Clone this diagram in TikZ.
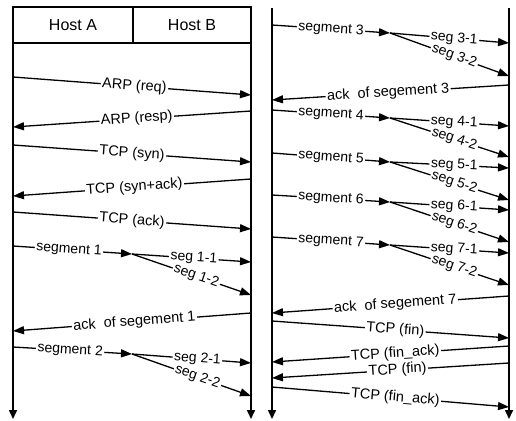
\documentclass[tikz,border=0pt]{standalone}
\usepackage{fontspec}
\setmainfont{Liberation Sans}
\usetikzlibrary{arrows.meta}
\begin{document}
\begin{tikzpicture}[x=1pt,y=-1pt,
  msg/.style={-{Triangle[length=11pt,width=8pt]}, line width=1.3pt},
  life/.style={-{Triangle[length=9pt,width=8pt]}, line width=1.5pt},
  lbl/.style={fill=white, inner xsep=1.5pt, inner ysep=0pt, sloped, font=\fontsize{14.5}{15}\selectfont},
  slbl/.style={lbl, font=\fontsize{14}{15}\selectfont},
  hdr/.style={font=\fontsize{16}{17}\selectfont}]
\useasboundingbox (0,0) rectangle (516,420);
% header
\draw[line width=1.3pt] (13,7) rectangle (251,43);
\draw[line width=1.3pt] (133,7) -- (133,43);
\node[hdr] (hA) at (73,25) {Host A};
\node[hdr] (hB) at (192,25) {Host B};
% lifelines
\coordinate (L1t) at (13,7);   \coordinate (L1b) at (13,419);
\coordinate (L2t) at (251,7);  \coordinate (L2b) at (251,419);
\coordinate (R1t) at (272,8);  \coordinate (R1b) at (272,419);
\coordinate (R2t) at (509,8);  \coordinate (R2b) at (509,419);
\draw[life] (L1t) -- (L1b);
\draw[life] (L2t) -- (L2b);
\draw[life] (R1t) -- (R1b);
\draw[life] (R2t) -- (R2b);
% ---------- left panel ----------
\coordinate (a1) at (13,77);  \coordinate (b1) at (251,95);
\draw[msg] (a1) -- node[lbl,pos=0.51]{ARP (req)} (b1);
\coordinate (b2) at (251,111); \coordinate (a2) at (13,127);
\draw[msg] (b2) -- node[lbl,pos=0.48]{ARP (resp)} (a2);
\coordinate (a3) at (13,145);  \coordinate (b3) at (251,162);
\draw[msg] (a3) -- node[lbl,pos=0.5]{TCP (syn)} (b3);
\coordinate (b4) at (251,179); \coordinate (a4) at (13,196);
\draw[msg] (b4) -- node[lbl,pos=0.49]{TCP (syn+ack)} (a4);
\coordinate (a5) at (13,212);  \coordinate (b5) at (251,229);
\draw[msg] (a5) -- node[lbl,pos=0.5]{TCP (ack)} (b5);
% segment 1
\coordinate (a6) at (13,246); \coordinate (f1) at (132,254);
\coordinate (b61) at (251,262); \coordinate (b62) at (251,295);
\draw[msg] (a6) -- node[slbl,pos=0.47]{segment 1} (f1);
\draw[msg] (f1) -- node[slbl,pos=0.54]{seg 1-2} (b62);
\draw[msg] (f1) -- node[slbl,pos=0.52]{seg 1-1} (b61);
\coordinate (b7) at (251,313); \coordinate (a7) at (13,331);
\draw[msg] (b7) -- node[lbl,pos=0.49]{ack\hspace{0.55em}of segement 1} (a7);
% segment 2
\coordinate (a8) at (13,347); \coordinate (f2) at (132,354);
\coordinate (b81) at (251,363); \coordinate (b82) at (251,396);
\draw[msg] (a8) -- node[slbl,pos=0.48]{segment 2} (f2);
\draw[msg] (f2) -- node[slbl,pos=0.55]{seg 2-2} (b82);
\draw[msg] (f2) -- node[slbl,pos=0.55]{seg 2-1} (b81);
% ---------- right panel ----------
% segment 3
\coordinate (c3) at (272,25); \coordinate (g3) at (390,33);
\coordinate (d31) at (509,43); \coordinate (d32) at (509,76);
\draw[msg] (c3) -- node[slbl,pos=0.5]{segment 3} (g3);
\draw[msg] (g3) -- node[slbl,pos=0.54]{seg 3-2} (d32);
\draw[msg] (g3) -- node[slbl,pos=0.54]{seg 3-1} (d31);
\coordinate (d3a) at (509,85); \coordinate (c3a) at (272,100);
\draw[msg] (d3a) -- node[lbl,pos=0.51]{ack\hspace{0.55em}of segement 3} (c3a);
% segment 4
\coordinate (c4) at (272,110); \coordinate (g4) at (390,118);
\coordinate (d41) at (509,126); \coordinate (d42) at (509,157);
\draw[msg] (c4) -- node[slbl,pos=0.5]{segment 4} (g4);
\draw[msg] (g4) -- node[slbl,pos=0.54]{seg 4-2} (d42);
\draw[msg] (g4) -- node[slbl,pos=0.54]{seg 4-1} (d41);
% segment 5
\coordinate (c5) at (272,153); \coordinate (g5) at (390,162);
\coordinate (d51) at (509,168); \coordinate (d52) at (509,200);
\draw[msg] (c5) -- node[slbl,pos=0.5]{segment 5} (g5);
\draw[msg] (g5) -- node[slbl,pos=0.54]{seg 5-2} (d52);
\draw[msg] (g5) -- node[slbl,pos=0.54]{seg 5-1} (d51);
% segment 6
\coordinate (c6) at (272,195); \coordinate (g6) at (390,202);
\coordinate (d61) at (509,210); \coordinate (d62) at (509,242);
\draw[msg] (c6) -- node[slbl,pos=0.5]{segment 6} (g6);
\draw[msg] (g6) -- node[slbl,pos=0.54]{seg 6-2} (d62);
\draw[msg] (g6) -- node[slbl,pos=0.54]{seg 6-1} (d61);
% segment 7
\coordinate (c7) at (272,237); \coordinate (g7) at (390,245);
\coordinate (d71) at (509,253); \coordinate (d72) at (509,285);
\draw[msg] (c7) -- node[slbl,pos=0.5]{segment 7} (g7);
\draw[msg] (g7) -- node[slbl,pos=0.54]{seg 7-2} (d72);
\draw[msg] (g7) -- node[slbl,pos=0.54]{seg 7-1} (d71);
\coordinate (d7a) at (509,296); \coordinate (c7a) at (272,313);
\draw[msg] (d7a) -- node[lbl,pos=0.48]{ack\hspace{0.55em}of segement 7} (c7a);
% closing
\coordinate (c8) at (272,321); \coordinate (d8) at (509,338);
\draw[msg] (c8) -- node[lbl,pos=0.52]{TCP (fin)} (d8);
\coordinate (d9) at (509,346); \coordinate (c9) at (272,362);
\draw[msg] (d9) -- node[lbl,pos=0.48]{TCP (fin\_ack)} (c9);
\coordinate (d10) at (509,363); \coordinate (c10) at (272,378);
\draw[msg] (d10) -- node[lbl,pos=0.47]{TCP (fin)} (c10);
\coordinate (c11) at (272,387); \coordinate (d11) at (509,407);
\draw[msg] (c11) -- node[lbl,pos=0.52]{TCP (fin\_ack)} (d11);
\end{tikzpicture}
\end{document}
